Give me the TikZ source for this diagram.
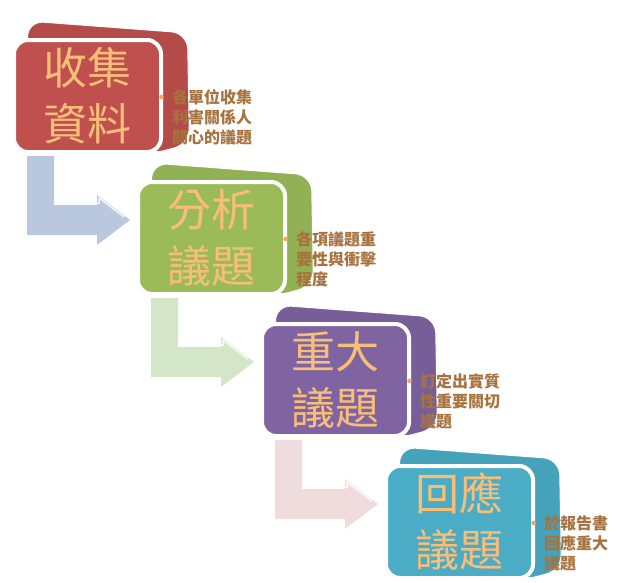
\documentclass[tikz,border=0pt]{standalone}
\usepackage{fontspec}
\newfontfamily\cjk{Noto Sans CJK TC}
\usetikzlibrary{positioning,calc}
\definecolor{redstep}{HTML}{C0504D}
\definecolor{greenstep}{HTML}{9BBB59}
\definecolor{purplestep}{HTML}{8064A2}
\definecolor{bluestep}{HTML}{4BACC6}
\definecolor{bendblue}{HTML}{B9C8DE}
\definecolor{bendgreen}{HTML}{D4E6C8}
\definecolor{bendpink}{HTML}{F0DCDC}
\definecolor{titleorange}{HTML}{F7BE7A}
\definecolor{descbrown}{HTML}{A8723F}
\definecolor{dotorange}{HTML}{F2A65A}

\begin{document}
\begin{tikzpicture}[x=1pt,y=-1pt]
\tikzstyle{every node}=[font=\cjk]
\tikzstyle{stepbox}=[draw=white, line width=4pt, rounded corners=14pt, minimum width=147pt, minimum height=112pt, align=center, text=titleorange, font=\cjk\fontsize{44}{56}\selectfont]
\tikzstyle{desc}=[align=left, inner sep=0pt, text=descbrown, font=\cjk\bfseries\fontsize{16}{20}\selectfont]
\tikzstyle{lid}=[draw=white, line width=1pt, rounded corners=16pt]
\tikzstyle{bevel}=[draw=white, line width=1.5pt, opacity=.8]
\useasboundingbox (0,0) rectangle (619,582);

\filldraw[fill=redstep!94!black, lid] (27.5,61) -- (27.5,21) -- (187.5,33) -- (189.5,144) -- (147.5,155) -- cycle;
\node (s1) [stepbox, fill=redstep] at (87.5,96) {收集\\資料};
\node (t1) [desc, right=9pt of s1.east, yshift=-21pt] {\llap{\color{dotorange}•\,}各單位收集\\利害關係人\\關心的議題};

\filldraw[fill=greenstep!94!black, lid] (151.5,203) -- (151.5,163) -- (311.5,175) -- (313.5,286) -- (271.5,297) -- cycle;
\node (s2) [stepbox, fill=greenstep] at (211.5,238) {分析\\議題};
\node (t2) [desc, right=9pt of s2.east, yshift=-21pt] {\llap{\color{dotorange}•\,}各項議題重\\要性與衝擊\\程度};

\filldraw[fill=purplestep!94!black, lid] (275.5,345) -- (275.5,305) -- (435.5,317) -- (437.5,428) -- (395.5,439) -- cycle;
\node (s3) [stepbox, fill=purplestep] at (335.5,380) {重大\\議題};
\node (t3) [desc, right=9pt of s3.east, yshift=-21pt] {\llap{\color{dotorange}•\,}訂定出實質\\性重要關切\\議題};

\filldraw[fill=bluestep!94!black, lid] (399.5,487) -- (399.5,447) -- (559.5,459) -- (561.5,570) -- (519.5,581) -- cycle;
\node (s4) [stepbox, fill=bluestep] at (459.5,522) {回應\\議題};
\node (t4) [desc, right=9pt of s4.east, yshift=-21pt] {\llap{\color{dotorange}•\,}於報告書\\回應重大\\議題};

\begin{scope}[shift={(s1.south west)}]
\fill[bendblue] (15,2) -- (42,2) -- (42,51) -- (85,51) -- (85,41) -- (118,66) -- (85,91) -- (85,81) -- (15,81) -- cycle;
\draw[bevel] (44,3) -- (44,49) -- (87,49) -- (87,44) -- (112,63);
\end{scope}
\begin{scope}[shift={(s2.south west)}]
\fill[bendgreen] (15,2) -- (42,2) -- (42,51) -- (85,51) -- (85,41) -- (118,66) -- (85,91) -- (85,81) -- (15,81) -- cycle;
\draw[bevel] (44,3) -- (44,49) -- (87,49) -- (87,44) -- (112,63);
\end{scope}
\begin{scope}[shift={(s3.south west)}]
\fill[bendpink] (15,2) -- (42,2) -- (42,51) -- (85,51) -- (85,41) -- (118,66) -- (85,91) -- (85,81) -- (15,81) -- cycle;
\draw[bevel] (44,3) -- (44,49) -- (87,49) -- (87,44) -- (112,63);
\end{scope}
\end{tikzpicture}
\end{document}
